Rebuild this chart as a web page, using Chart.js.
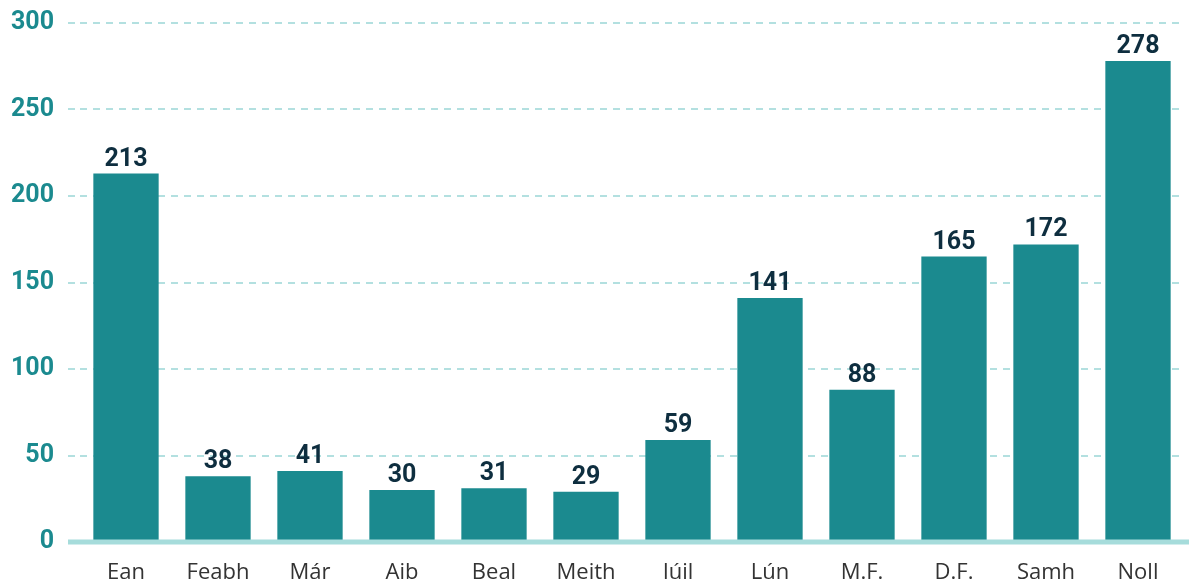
<!DOCTYPE html>
<html>
<head>
<meta charset="utf-8">
<script src="https://cdn.jsdelivr.net/npm/chart.js@4"></script>
<style>
  html, body { margin: 0; padding: 0; background: #fff; overflow: hidden; }
  #wrap { width: 1189px; height: 600px; position: relative; }
</style>
</head>
<body>
<div id="wrap"><canvas id="chart"></canvas></div>
<script>
const months = ["Ean", "Feabh", "Már", "Aib", "Beal", "Meith", "Iúil", "Lún", "M.F.", "D.F.", "Samh", "Noll"];
const counts = [213, 38, 41, 30, 31, 29, 59, 141, 88, 165, 172, 278];
const yTicks = [0, 50, 100, 150, 200, 250, 300];

const teal = "#1b8a8f";
const navy = "#0e2e3f";

// value labels over each bar
const valueLabels = {
  id: "valueLabels",
  afterDatasetsDraw(chart) {
    const ctx = chart.ctx;
    const meta = chart.getDatasetMeta(0);
    ctx.save();
    ctx.font = "bold 25px Roboto";
    ctx.fillStyle = navy;
    ctx.textAlign = "center";
    ctx.textBaseline = "alphabetic";
    meta.data.forEach((bar, i) => {
      ctx.fillText(counts[i], bar.x, bar.y - 8);
    });
    ctx.restore();
  }
};

// thick light baseline at zero, running to the edge
const baseline = {
  id: "baseline",
  afterDatasetsDraw(chart) {
    const ctx = chart.ctx;
    const y = chart.scales.y.getPixelForValue(0);
    ctx.save();
    ctx.strokeStyle = "#a6dcdb";
    ctx.lineWidth = 5;
    ctx.beginPath();
    ctx.moveTo(68, y);
    ctx.lineTo(chart.width, y);
    ctx.stroke();
    ctx.restore();
  }
};

new Chart(document.getElementById("chart"), {
  type: "bar",
  data: {
    labels: months,
    datasets: [{
      data: counts,
      backgroundColor: teal,
      categoryPercentage: 1,
      barPercentage: 0.71
    }]
  },
  options: {
    responsive: true,
    maintainAspectRatio: false,
    animation: false,
    layout: { padding: { top: 23, right: 5, bottom: 0, left: 0 } },
    plugins: {
      legend: { display: false },
      tooltip: { enabled: false }
    },
    scales: {
      x: {
        grid: { display: false },
        border: { display: false },
        ticks: {
          color: "#333",
          font: { family: "Open Sans", size: 22 },
          padding: 10,
          maxRotation: 0
        },
        afterFit(scale) { scale.height = 58; }
      },
      y: {
        min: 0,
        max: 300,
        afterBuildTicks(scale) { scale.ticks = yTicks.map(v => ({ value: v })); },
        grid: {
          color: "#b3e0e0",
          lineWidth: 2,
          tickLength: 12,
          tickColor: "#b3e0e0",
          tickWidth: 2,
          tickBorderDash: [7, 6]
        },
        border: { display: false, dash: [7, 6] },
        ticks: {
          color: teal,
          font: { family: "Roboto", size: 25, weight: "bold" },
          padding: 14
        },
        afterFit(scale) {
          scale.width = 80;
          scale.paddingTop = 0;
        }
      }
    }
  },
  plugins: [valueLabels, baseline]
});
</script>
</body>
</html>
